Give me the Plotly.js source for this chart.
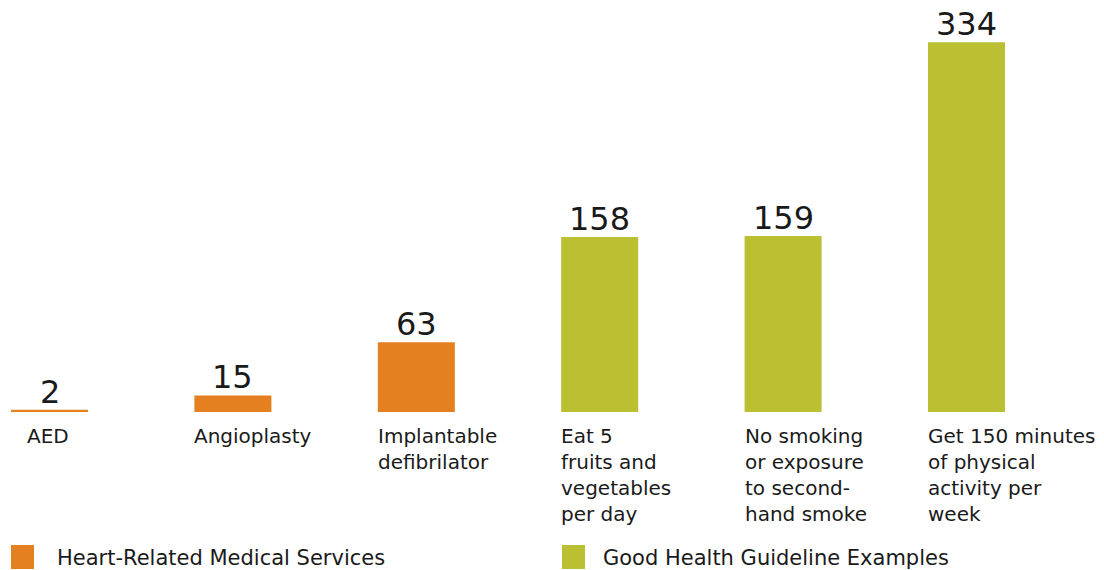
<!DOCTYPE html>
<html>
<head>
<meta charset="utf-8">
<script src="https://cdn.plot.ly/plotly-3.0.1.min.js"></script>
<style>html,body{margin:0;padding:0;background:#fff;}#chart{width:1104px;height:570px;}</style>
</head>
<body>
<div id="chart"></div>
<script>
const categories = ['AED', 'Angioplasty', 'Implantable defibrilator', 'Eat 5 fruits and vegetables per day', 'No smoking or exposure to second-hand smoke', 'Get 150 minutes of physical activity per week'];
const tickLabels = ['AED', 'Angioplasty', 'Implantable<br>defibrilator', 'Eat 5<br>fruits and<br>vegetables<br>per day', 'No smoking<br>or exposure<br>to second-<br>hand smoke', 'Get 150 minutes<br>of physical<br>activity per<br>week'];
const values = [2, 15, 63, 158, 159, 334];
const groups = ['Heart-Related Medical Services', 'Heart-Related Medical Services', 'Heart-Related Medical Services', 'Good Health Guideline Examples', 'Good Health Guideline Examples', 'Good Health Guideline Examples'];
const groupNames = ['Heart-Related Medical Services', 'Good Health Guideline Examples'];

const colors = {'Heart-Related Medical Services': '#E4801F', 'Good Health Guideline Examples': '#BBC033'};
const FONT = 'DejaVu Sans, sans-serif';
const TXT = '#1a1a1a';
const W = 1104, H = 570, MB = 158, PH = H - MB;
const BW = 0.42;

const traces = groupNames.map(g => {
  const idx = categories.map((c, i) => i).filter(i => groups[i] === g);
  return {
    type: 'bar',
    name: g,
    x: idx.map(i => categories[i]),
    y: idx.map(i => values[i]),
    width: BW,
    marker: {color: colors[g]},
    showlegend: false,
    hoverinfo: 'x+y'
  };
});

// value labels above bars
const annotations = categories.map((c, i) => ({
  x: c, xref: 'x', y: values[i], yref: 'y',
  xanchor: 'center', yanchor: 'bottom', yshift: -3,
  text: String(values[i]), showarrow: false,
  font: {family: FONT, size: 32, color: TXT}
}));

// category labels under bars
categories.forEach((c, i) => annotations.push({
  x: i === 0 ? i : i - BW / 2,
  xref: 'x',
  y: 0, yref: 'y',
  yanchor: 'top',
  xanchor: i === 0 ? 'center' : 'left',
  align: 'left',
  xshift: -2,
  yshift: -10,
  text: tickLabels[i],
  showarrow: false,
  font: {family: FONT, size: 20, color: TXT}
}));

const py = p => (PH - p) / PH; // pixel y -> paper y
const shapes = [];
const legendX = [11, 562];
const legendTextX = [57, 603];
groupNames.forEach((g, k) => {
  shapes.push({type: 'rect', xref: 'paper', yref: 'paper',
    x0: legendX[k] / W, x1: (legendX[k] + 23) / W, y0: py(545), y1: py(569),
    fillcolor: colors[g], line: {width: 0}});
  annotations.push({xref: 'paper', yref: 'paper', x: (legendTextX[k] - 2) / W, y: py(558),
    xanchor: 'left', yanchor: 'middle', text: g, showarrow: false,
    font: {family: FONT, size: 21, color: TXT}});
});

const layout = {
  width: W, height: H,
  margin: {l: 0, r: 0, t: 0, b: MB, pad: 0},
  paper_bgcolor: '#fff', plot_bgcolor: '#fff',
  xaxis: {type: 'category', categoryorder: 'array', categoryarray: categories,
    range: [-49.5 / 183.4, (W - 49.5) / 183.4], showticklabels: false,
    showgrid: false, zeroline: false, showline: false, ticks: ''},
  yaxis: {range: [0, 372.2], visible: false, showgrid: false, zeroline: false},
  barmode: 'overlay',
  showlegend: false,
  annotations: annotations,
  shapes: shapes,
  font: {family: FONT, color: TXT}
};

Plotly.newPlot('chart', traces, layout, {displayModeBar: false, staticPlot: true});
</script>
</body>
</html>
